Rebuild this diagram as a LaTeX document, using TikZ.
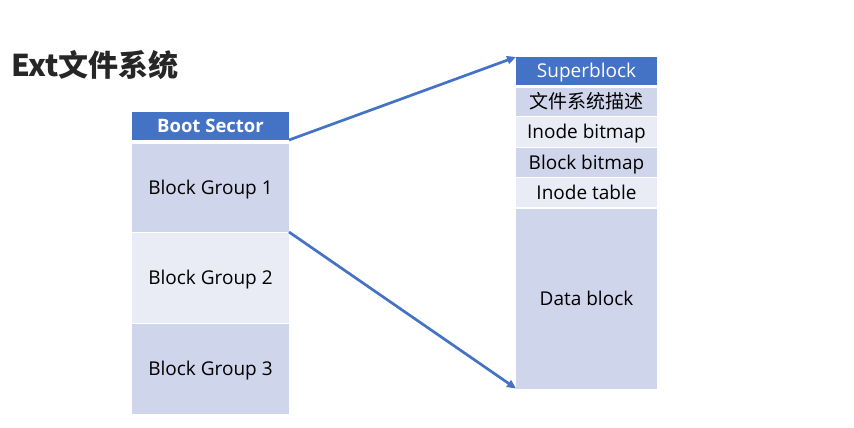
\documentclass[tikz,border=0pt]{standalone}
\usepackage{fontspec}
\setmainfont{Open Sans}
\newfontfamily\cjkfont{Noto Sans CJK SC}
\usetikzlibrary{arrows.meta}
\definecolor{hdr}{HTML}{4472C4}
\definecolor{lt}{HTML}{CFD5EA}
\definecolor{lter}{HTML}{E9EBF5}
\definecolor{arr}{HTML}{4472C4}
\definecolor{ttl}{HTML}{262626}
\tikzset{
  cell/.style={anchor=north west, inner sep=0pt, outer sep=0pt, text height=13.5pt, text depth=0pt, font=\fontsize{19}{22}\selectfont, text=black},
  hdrcell/.style={cell, fill=hdr, text=white},
  conn/.style={draw=arr, line width=2.7pt, -{Triangle[length=9pt,width=8pt]}}
}
\begin{document}
\begin{tikzpicture}[x=1pt,y=-1pt]
\useasboundingbox (0,0) rectangle (854,428);
\node[anchor=west, inner sep=0pt, text=ttl, font=\cjkfont\bfseries\fontsize{30}{34}\selectfont] (title) at (11,65) {Ext文件系统};
% left column
\node[hdrcell, minimum width=157pt, minimum height=28pt, font=\bfseries\fontsize{18.5}{22}\selectfont] (boot) at (132,112) {Boot Sector};
\node[cell, fill=lt, minimum width=157pt, minimum height=88pt] (bg1) at (132,144) {Block Group 1};
\node[cell, fill=lter, minimum width=157pt, minimum height=90pt] (bg2) at (132,233) {Block Group 2};
\node[cell, fill=lt, minimum width=157pt, minimum height=90pt] (bg3) at (132,324) {Block Group 3};
% right column
\node[hdrcell, minimum width=141pt, minimum height=28pt] (sb) at (516,57) {Superblock};
\node[cell, fill=lt, minimum width=141pt, minimum height=28pt, font=\cjkfont\fontsize{19}{22}\selectfont] (desc) at (516,88) {文件系统描述};
\node[cell, fill=lter, minimum width=141pt, minimum height=30pt] (ibm) at (516,117) {Inode bitmap};
\node[cell, fill=lt, minimum width=141pt, minimum height=29pt] (bbm) at (516,148) {Block bitmap};
\node[cell, fill=lter, minimum width=141pt, minimum height=29pt] (itab) at (516,178) {Inode table};
\node[cell, fill=lt, minimum width=141pt, minimum height=180pt] (data) at (516,208.5) {Data block};
% connectors
\draw[conn] (boot.south east) -- (sb.north west);
\draw[conn] (bg1.south east) -- (data.south west);
\end{tikzpicture}
\end{document}
